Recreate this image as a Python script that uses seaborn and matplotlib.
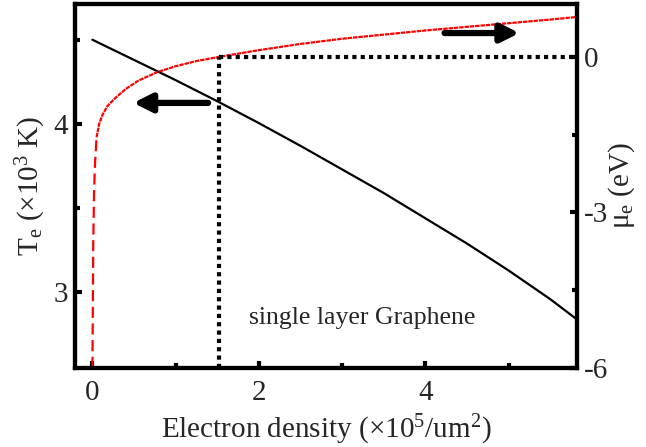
import matplotlib
matplotlib.use("Agg")
import matplotlib.pyplot as plt
import seaborn as sns
import pandas as pd

# Data ---------------------------------------------------------------------------------
# electron temperature (left axis) vs density
density_te = [0.0, 0.5, 1.0, 1.5, 2.0, 2.5, 3.0, 3.5, 4.0, 4.5, 5.0, 5.5, 5.82]
temperature = [4.50, 4.38, 4.26, 4.135, 4.005, 3.87, 3.73, 3.59, 3.44, 3.29, 3.13, 2.96, 2.84]

# chemical potential (right axis) vs density
density_mu = [0.0, 0.005, 0.01, 0.02, 0.03, 0.05, 0.08, 0.12, 0.18, 0.27, 0.4, 0.55,
              0.77, 1.0, 1.25, 1.52, 2.0, 2.5, 3.0, 3.5, 4.0, 4.5, 5.0, 5.5, 5.82]
potential = [-6.0, -4.8, -3.6, -2.6, -2.1, -1.55, -1.3, -1.12, -0.95, -0.8, -0.62, -0.46,
             -0.3, -0.18, -0.08, 0.0, 0.13, 0.25, 0.35, 0.43, 0.51, 0.58, 0.65, 0.72, 0.77]

marker_density = 1.52
label_text = "single layer Graphene"

te_df = pd.DataFrame({"n": density_te, "T": temperature})
mu_df = pd.DataFrame({"n": density_mu, "mu": potential})
mu_low = mu_df[mu_df["n"] <= 0.05]
mu_high = mu_df[mu_df["n"] >= 0.05]

# Style --------------------------------------------------------------------------------
sns.set_theme(style="ticks")
plt.rcParams["font.family"] = ["Liberation Serif", "DejaVu Serif"]
plt.rcParams["mathtext.fontset"] = "custom"
plt.rcParams["mathtext.rm"] = "Liberation Serif"
plt.rcParams["mathtext.it"] = "Liberation Serif:italic"

fs = 21
fig = plt.figure(figsize=(6.46, 4.47), dpi=100)
ax = fig.add_axes([0.116, 0.177, 0.777, 0.814])
ax2 = ax.twinx()

# Graph
sns.lineplot(data=te_df, x="n", y="T", ax=ax, color="black", lw=1.6)
sns.lineplot(data=mu_low, x="n", y="mu", ax=ax2, color="red", lw=1.6,
             linestyle=(0, (5, 2.5)))
sns.lineplot(data=mu_high, x="n", y="mu", ax=ax2, color="red", lw=1.6,
             linestyle=(0, (2, 0.4)))

# Dotted guide lines
ax2.plot([marker_density, marker_density], [-6, 0], color="black", lw=3,
         linestyle=(0, (1, 1)))
ax2.plot([marker_density, 5.82], [0, 0], color="black", lw=3,
         linestyle=(0, (1, 1)))

# Arrows
arrow = dict(arrowstyle="-|>,head_length=0.9,head_width=0.45", lw=4.5,
             color="black", shrinkA=0, shrinkB=0)
ax.annotate("", xy=(0.49, 4.125), xytext=(1.39, 4.125), arrowprops=arrow)
ax2.annotate("", xy=(5.13, 0.46), xytext=(4.23, 0.46), arrowprops=arrow)

ax.text(3.24, 2.85, label_text, fontsize=18.5, ha="center", va="center")

# Axes
ax.set_xlim(-0.21, 5.82)
ax.set_ylim(2.552, 4.712)
ax2.set_ylim(-6, 1.02)
ax.set_xticks([0, 2, 4])
ax.set_xticks([1, 3, 5], minor=True)
ax.set_yticks([3, 4])
ax.set_yticks([3.5, 4.5], minor=True)
ax2.set_yticks([-6, -3, 0])
ax2.set_yticks([-4.5, -1.5], minor=True)
ax2.set_yticklabels(["-6", "-3", "0"])

ax.set_xlabel(r"Electron density ($\times$10$^{\mathregular{5}}$/um$^{\mathregular{2}}$)",
              fontsize=fs, labelpad=5)
ax.set_ylabel(r"T$_{\mathregular{e}}$ ($\times$10$^{\mathregular{3}}$ K)", fontsize=fs,
              labelpad=4)
ax2.set_ylabel(r"$\mathregular{\mu}_{\mathregular{e}}$ (eV)", fontsize=fs, labelpad=-1)

for a in (ax, ax2):
    for s in a.spines.values():
        s.set_linewidth(3)
        s.set_color("black")
    a.tick_params(which="major", direction="in", length=5, width=3, labelsize=fs,
                  color="black", pad=5)
    a.tick_params(which="minor", direction="in", length=3.5, width=3, color="black")
ax.tick_params(axis="x", which="major", pad=9)

plt.savefig("out.png", dpi=100)
